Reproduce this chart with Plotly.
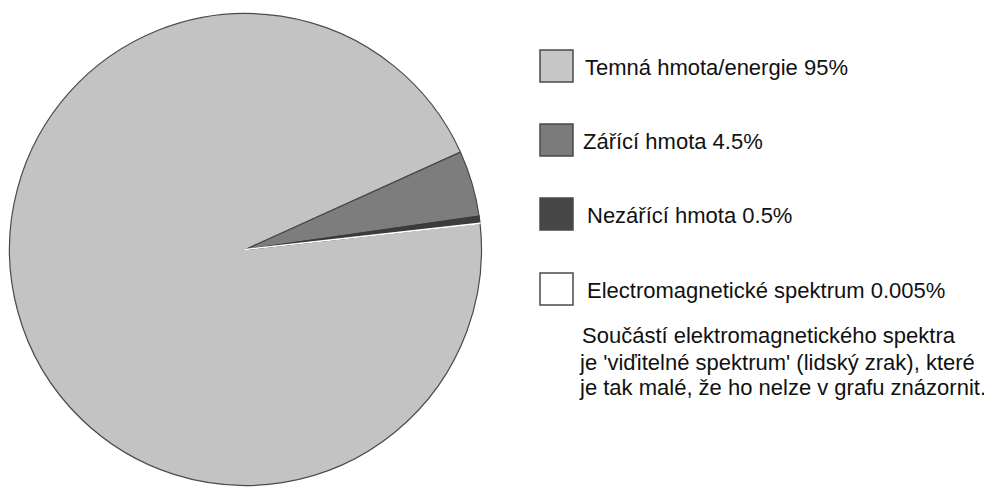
import plotly.graph_objects as go

# ---- data ----
labels = ["Temná hmota/energie", "Zářící hmota", "Nezářící hmota", "Electromagnetické spektrum"]
values = [95, 4.5, 0.5, 0.005]
note_lines = [
    "Součástí elektromagnetického spektra",
    "je 'viďitelné spektrum' (lidský zrak), které",
    "je tak malé, že ho nelze v grafu znázornit.",
]

# ---- style ----
slice_colors = ["#c3c3c3", "#7d7d7d", "#3c3c3c", "#ffffff"]
box_colors = ["#c6c6c6", "#7b7b7b", "#474747", "#ffffff"]
line_colors = ["#4a4a4a", "#4a4a4a", "#3a3a3a", "#ffffff"]
line_widths = [1.2, 1.2, 1.2, 1.5]

OFF = 8  # default page body margin
W, H = 992 - OFF, 487 - OFF
FONT = "Liberation Sans, Arial, sans-serif"


def px(x):
    return (x - OFF) / W


def py(y):
    return 1 - (y - OFF) / H


cx, cy, r = 245.5, 249.5, 236

fig = go.Figure()
fig.add_trace(go.Pie(
    labels=labels,
    values=values,
    sort=False,
    direction="clockwise",
    rotation=83.65,
    textinfo="none",
    hoverinfo="label+percent",
    showlegend=False,
    marker=dict(colors=slice_colors, line=dict(color=line_colors, width=line_widths)),
    domain=dict(x=[px(cx - r), px(cx + r)], y=[max(0, py(cy + r)), min(1, py(cy - r))]),
))

# ---- custom legend ----
box_centers = [66, 140, 214, 289]
text_x = [583, 581, 585, 585]
shapes = []
annotations = []
for i, (lab, val) in enumerate(zip(labels, values)):
    yc = box_centers[i]
    shapes.append(dict(
        type="rect", xref="paper", yref="paper",
        x0=px(540), x1=px(573), y0=py(yc - 16), y1=py(yc + 16),
        fillcolor=box_colors[i], line=dict(color="#4a4a4a", width=1.5),
    ))
    annotations.append(dict(
        xref="paper", yref="paper", x=px(text_x[i]), y=py(yc + 1),
        xanchor="left", yanchor="middle", showarrow=False,
        text=f"{lab} {val:g}%",
        font=dict(family=FONT, size=22, color="#111111"),
    ))

note_y = [335, 362, 387]
note_x = [580, 577, 577]
for t, yy, xx in zip(note_lines, note_y, note_x):
    annotations.append(dict(
        xref="paper", yref="paper", x=px(xx), y=py(yy),
        xanchor="left", yanchor="middle", showarrow=False,
        text=t, font=dict(family=FONT, size=22, color="#111111"),
    ))

fig.update_layout(
    width=W, height=H,
    margin=dict(l=0, r=0, t=0, b=0),
    paper_bgcolor="white", plot_bgcolor="white",
    shapes=shapes, annotations=annotations,
    showlegend=False,
)

fig.write_html("out.html")
